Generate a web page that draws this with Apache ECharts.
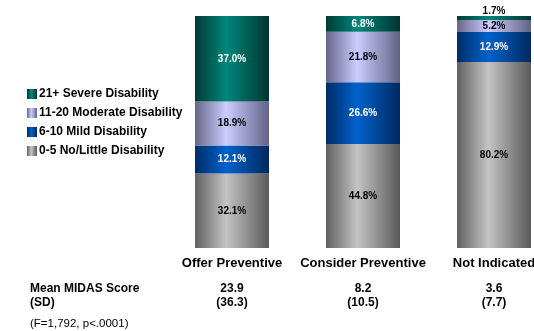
<!DOCTYPE html>
<html><head><meta charset="utf-8">
<script src="https://cdn.jsdelivr.net/npm/echarts@6/dist/echarts.min.js"></script>
<style>html,body{margin:0;padding:0;background:#fff}#c{width:534px;height:331px}</style>
</head><body><div id="c"></div>
<script>
const categories = ['Offer Preventive', 'Consider Preventive', 'Not Indicated'];
const seriesNames = ['0-5 No/Little Disability', '6-10 Mild Disability', '11-20 Moderate Disability', '21+ Severe Disability'];
const noLittle = [32.1, 44.8, 80.2];
const mild = [12.1, 26.6, 12.9];
const moderate = [18.9, 21.8, 5.2];
const severe = [37.0, 6.8, 1.7];
const meanScores = ['23.9', '8.2', '3.6'];
const sdScores = ['(36.3)', '(10.5)', '(7.7)'];
const legendOrder = ['21+ Severe Disability', '11-20 Moderate Disability', '6-10 Mild Disability', '0-5 No/Little Disability'];

function grad(edgeL, mid, edgeR) {
  return new echarts.graphic.LinearGradient(0, 0, 1, 0, [
    {offset: 0, color: edgeL}, {offset: 0.42, color: mid}, {offset: 1, color: edgeR}
  ]);
}
const fills = [
  grad('#606060', '#c4c4c4', '#5a5a5a'),
  grad('#002c66', '#0062cc', '#00285e'),
  grad('#666688', '#ccccff', '#626286'),
  grad('#003a34', '#00877b', '#003530')
];
const labelColors = ['#000', '#fff', '#000', '#fff'];
const values = [noLittle, mild, moderate, severe];

const chart = echarts.init(document.getElementById('c'));
const series = seriesNames.map((n, i) => ({
  name: n, type: 'bar', stack: 'a', barWidth: 74,
  itemStyle: {color: fills[i]},
  label: {show: true, position: 'inside', color: labelColors[i], fontSize: 10, fontWeight: 'bold',
    fontFamily: 'Liberation Sans', formatter: p => p.value.toFixed(1) + '%'},
  data: values[i].map((v, j) => {
    if (i === 3 && v < 3) {
      return {value: v, label: {position: 'top', color: '#000', distance: 0}};
    }
    return v;
  })
}));

chart.setOption({
  animation: false,
  textStyle: {fontFamily: 'Liberation Sans'},
  grid: {left: 166.5, width: 393, top: 16, bottom: 83, outerBoundsMode: 'none', containLabel: false},
  legend: {
    data: legendOrder, orient: 'vertical', left: 22, top: 83, itemWidth: 10, itemHeight: 10, itemGap: 7,
    icon: 'rect', selectedMode: false,
    textStyle: {fontSize: 12, fontWeight: 'bold', color: '#000', fontFamily: 'Liberation Sans', padding: [0, 0, 0, -3]}
  },
  xAxis: {
    type: 'category', data: categories,
    axisLine: {show: false}, axisTick: {show: false},
    axisLabel: {
      margin: 8, interval: 0,
      formatter: (v, i) => '{cat|' + v + '}\n{gap| }\n{m|' + meanScores[i] + '}\n{m|' + sdScores[i] + '}',
      rich: {
        cat: {fontSize: 13, fontWeight: 'bold', color: '#000', lineHeight: 15, fontFamily: 'Liberation Sans'},
        gap: {fontSize: 6, lineHeight: 11},
        m: {fontSize: 12, fontWeight: 'bold', color: '#000', lineHeight: 14, fontFamily: 'Liberation Sans'}
      }
    }
  },
  yAxis: {type: 'value', min: 0, max: 100, show: false, splitLine: {show: false}},
  series: series,
  graphic: [
    {type: 'text', left: 30, top: 282, style: {text: 'Mean MIDAS Score\n(SD)', fontSize: 12, fontWeight: 'bold', lineHeight: 14, fill: '#000', fontFamily: 'Liberation Sans'}},
    {type: 'text', left: 30, top: 318, style: {text: '(F=1,792, p<.0001)', fontSize: 11.5, fill: '#000', fontFamily: 'Liberation Sans'}}
  ]
});
</script></body></html>
